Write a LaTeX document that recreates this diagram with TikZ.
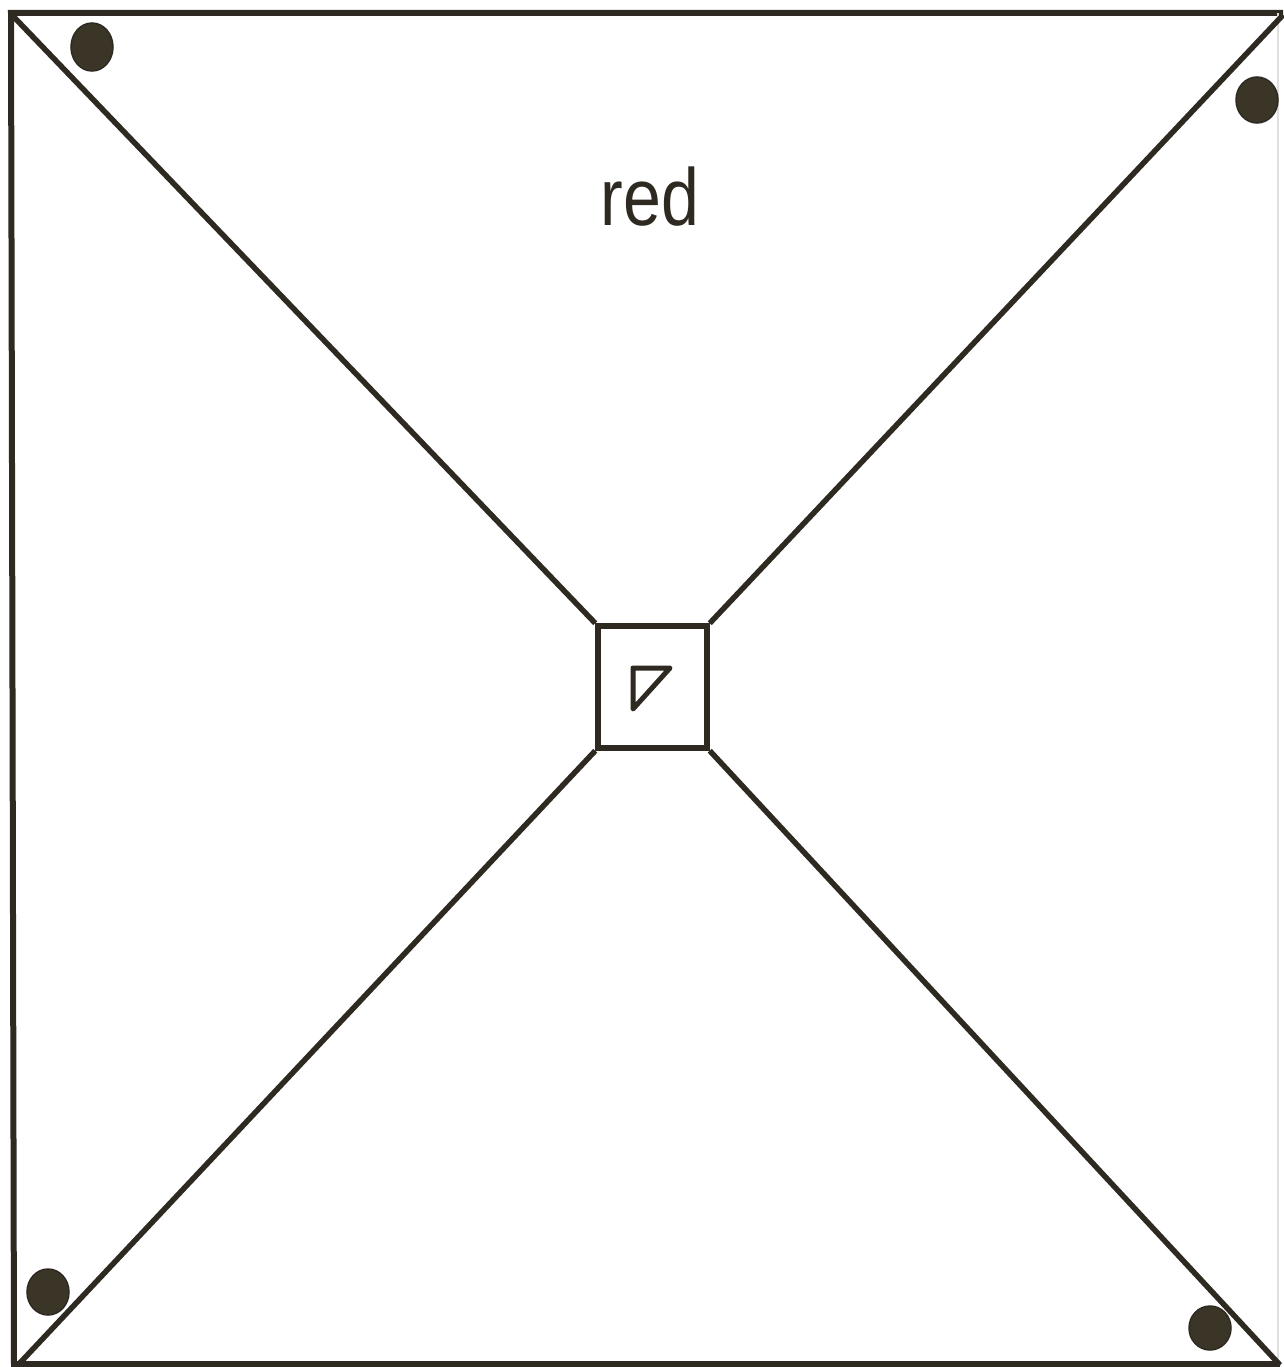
\documentclass[tikz,border=0pt]{standalone}
\usepackage{fontspec}
\setmainfont{Liberation Sans}
\definecolor{ink}{HTML}{2E2A22}
\definecolor{dotfill}{HTML}{3B3527}
\begin{document}
\begin{tikzpicture}[x=1pt,y=-1pt,
  edge/.style={draw=ink,line width=5.5pt},
  dotmark/.style={fill=dotfill,draw=ink,line width=1.5pt}]
\useasboundingbox (0,0) rectangle (1283,1367);
% frame
\draw[draw=ink,line width=6pt,line join=miter] (1283,13) -- (11,13) -- (14,1364) -- (1280,1364);
\draw[draw=ink!15,line width=1.5pt] (1278,13) -- (1278,1364);
% corner points
\coordinate (tl) at (12,15);
\coordinate (tr) at (1283,15);
\coordinate (bl) at (18,1365);
\coordinate (br) at (1280,1365);
% centre square
\node[draw=ink,line width=5.5pt,minimum width=109pt,minimum height=122pt,inner sep=0pt] (sq) at (652.5,687) {};
% diagonals
\draw[edge] (tl) -- (sq.north west);
\draw[edge] (tr) -- (sq.north east);
\draw[edge] (bl) -- (sq.south west);
\draw[edge] (br) -- (sq.south east);
% triangle
\draw[draw=ink,line width=5pt,line join=round] (633,668) -- (670,668) -- (633,709) -- cycle;
% dots
\fill[dotmark] (92,47) ellipse (21pt and 24pt);
\fill[dotmark] (1257,100) ellipse (21pt and 23pt);
\fill[dotmark] (48,1292) ellipse (21pt and 23pt);
\fill[dotmark] (1210,1328) ellipse (21pt and 22pt);
% label
\node[anchor=base,inner sep=0pt,text=ink,font=\fontsize{81}{90}\selectfont] (lbl) at (650,225) {\scalebox{0.84}[1]{red}};
\end{tikzpicture}
\end{document}
